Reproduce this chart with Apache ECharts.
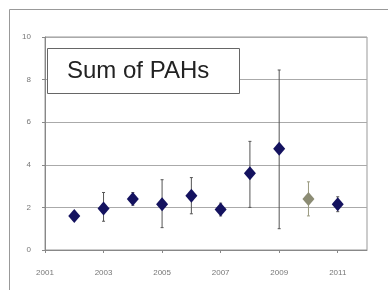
<!DOCTYPE html>
<html>
<head>
<meta charset="utf-8">
<script src="https://cdn.jsdelivr.net/npm/echarts@6/dist/echarts.min.js"></script>
<style>
html, body { margin: 0; padding: 0; background: #fff; }
#main { width: 388px; height: 290px; }
</style>
</head>
<body>
<div id="main"></div>
<script>
// data
var years = [2002, 2003, 2004, 2005, 2006, 2007, 2008, 2009, 2010, 2011];
var means = [1.6, 1.95, 2.4, 2.15, 2.55, 1.9, 3.6, 4.75, 2.4, 2.15];
var lows  = [1.4, 1.35, 2.1, 1.05, 1.7, 1.6, 2.0, 1.0, 1.6, 1.8];
var highs = [1.8, 2.7, 2.7, 3.3, 3.4, 2.2, 5.1, 8.45, 3.2, 2.5];
var pointColors = ['#14125f', '#14125f', '#14125f', '#14125f', '#14125f', '#14125f', '#14125f', '#14125f', '#8c8c74', '#14125f'];
var yTicks = [0, 2, 4, 6, 8, 10];
var titleText = 'Sum of PAHs';

var chart = echarts.init(document.getElementById('main'));

var pts = [];
var bars = [];
for (var i = 0; i < years.length; i++) {
    pts.push({ value: [years[i], means[i]], itemStyle: { color: pointColors[i], opacity: 1 } });
    bars.push([years[i], lows[i], highs[i], i]);
}

var option = {
    animation: false,
    backgroundColor: '#fff',
    title: {
        text: titleText,
        left: 47,
        top: 48,
        padding: [11, 30, 11, 20],
        borderColor: '#666',
        borderWidth: 1,
        backgroundColor: '#fff',
        textStyle: { fontFamily: 'Liberation Sans', fontSize: 24, fontWeight: 'normal', color: '#222' }
    },
    graphic: [{
        type: 'rect',
        shape: { x: 9.5, y: 9.5, width: 400, height: 300 },
        style: { fill: 'none', stroke: '#999', lineWidth: 1 },
        z: -1
    }],
    grid: { left: 45, right: 21, top: 37, bottom: 40, show: true, borderColor: '#999', borderWidth: 1 },
    xAxis: {
        type: 'value',
        min: 2001,
        max: 2012,
        interval: 2,
        splitLine: { show: false },
        axisLine: { lineStyle: { color: '#888' } },
        axisTick: { show: true, length: 3, lineStyle: { color: '#888' } },
        axisLabel: {
            showMaxLabel: false, fontSize: 8, color: '#777', fontFamily: 'Liberation Sans', margin: 19,
            formatter: function(v) { return String(v); }
        }
    },
    yAxis: {
        type: 'value',
        min: yTicks[0],
        max: yTicks[yTicks.length - 1],
        interval: 2,
        splitLine: { lineStyle: { color: '#aaa', width: 1 } },
        axisLine: { show: true, lineStyle: { color: '#888' } },
        axisTick: { show: true, length: 3, lineStyle: { color: '#888' } },
        axisLabel: { fontSize: 8, color: '#777', fontFamily: 'Liberation Sans', margin: 14 }
    },
    series: [{
        type: 'custom',
        data: bars,
        renderItem: function(params, api) {
            var x = api.value(0);
            var lo = api.coord([x, api.value(1)]);
            var hi = api.coord([x, api.value(2)]);
            var c = pointColors[api.value(3)] === '#8c8c74' ? '#9a9a80' : '#555';
            return {
                type: 'group',
                children: [
                    { type: 'line', shape: { x1: lo[0], y1: lo[1], x2: hi[0], y2: hi[1] }, style: { stroke: c, lineWidth: 1 } },
                    { type: 'line', shape: { x1: lo[0] - 1.5, y1: lo[1], x2: lo[0] + 1.5, y2: lo[1] }, style: { stroke: c, lineWidth: 1 } },
                    { type: 'line', shape: { x1: hi[0] - 1.5, y1: hi[1], x2: hi[0] + 1.5, y2: hi[1] }, style: { stroke: c, lineWidth: 1 } }
                ]
            };
        },
        z: 2
    }, {
        type: 'scatter',
        data: pts,
        symbol: 'diamond',
        symbolSize: [12, 14],
        z: 3
    }]
};

chart.setOption(option);
</script>
</body>
</html>
